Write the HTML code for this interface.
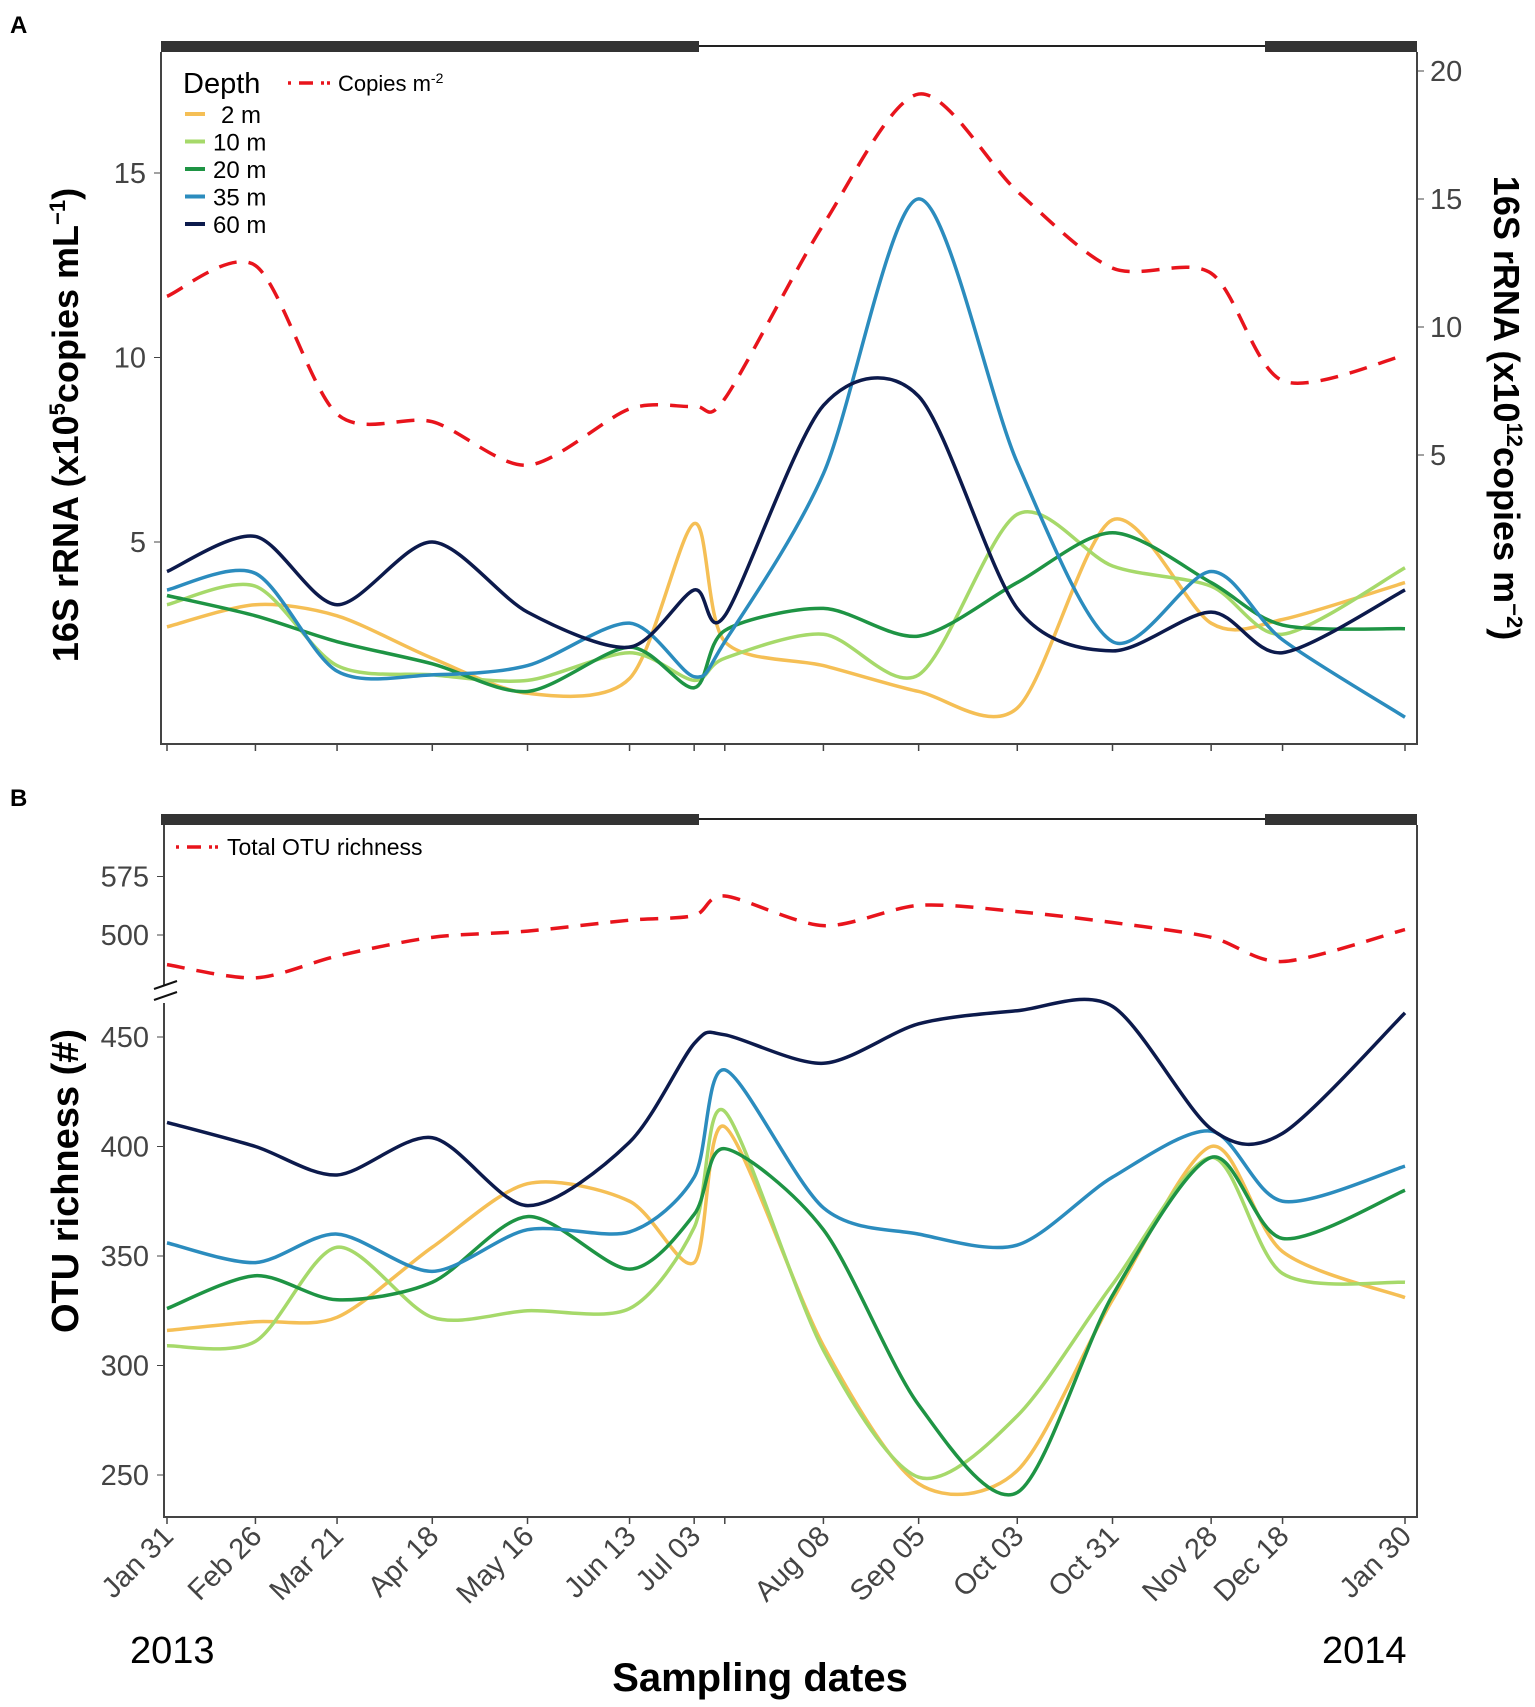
<!DOCTYPE html>
<html><head><meta charset="utf-8"><style>
body{margin:0;background:#fff}
svg{display:block;font-family:"Liberation Sans",Arial,sans-serif}
</style></head><body>
<svg id="chart" width="1535" height="1707" viewBox="0 0 1535 1707"></svg>
<script>
const days=[0,26,50,78,106,136,155,164,193,221,250,278,307,328,364];
const tickDays=[0,26,50,78,106,136,155,164,193,221,250,278,307,328,364];
const tickLabels=["Jan 31","Feb 26","Mar 21","Apr 18","May 16","Jun 13","Jul 03","","Aug 08","Sep 05","Oct 03","Oct 31","Nov 28","Dec 18","Jan 30"];
const depthNames=["2 m","10 m","20 m","35 m","60 m"];
const depthColors=["#f5bf55","#a6d96a","#1e9444","#2b8cbe","#0c1a4c"];
const aCopies=[11.2,12.4,6.6,6.3,4.6,6.8,6.9,7.2,14,19.1,15.3,12.3,12.1,7.9,8.9];
const a2=[2.7,3.3,3.0,1.85,0.9,1.3,5.5,2.3,1.65,0.95,0.5,5.6,2.8,2.9,3.9];
const a10=[3.3,3.8,1.65,1.4,1.25,2.0,1.25,1.85,2.5,1.4,5.75,4.35,3.8,2.5,4.3];
const a20=[3.55,3.0,2.3,1.7,0.95,2.15,1.05,2.6,3.2,2.45,3.9,5.25,3.9,2.75,2.65];
const a35=[3.7,4.15,1.5,1.4,1.65,2.8,1.35,2.3,6.85,14.3,7.15,2.3,4.2,2.35,0.25];
const a60=[4.2,5.15,3.3,5.0,3.1,2.15,3.7,3.0,8.7,8.95,3.2,2.05,3.1,2.0,3.7];
const bTotal=[462,445,473,497,505,519,525,550,512,538,530,516,497,466,507];
const b2=[316,320,322,354,383,375,347,409,309,246,252,330,400,352,331];
const b10=[309,311,354,322,325,326,363,416,307,249,277,337,395,342,338];
const b20=[326,341,330,338,368,344,369,399,362,282,242,332,395,358,380];
const b35=[356,347,360,343,362,361,386,435,372,360,355,386,407,375,391];
const b60=[411,400,387,404,373,402,447,451,438,456,462,464,408,406,461];
const aLeftTicks=[5,10,15], aRightTicks=[5,10,15,20];
const bLowTicks=[250,300,350,400,450], bHighTicks=[500,575];

const NS="http://www.w3.org/2000/svg";
const svg=document.getElementById('chart');
function el(tag,attrs,parent,text){const e=document.createElementNS(NS,tag);for(const k in attrs)e.setAttribute(k,attrs[k]);if(text!==undefined)e.textContent=text;(parent||svg).appendChild(e);return e;}
const X=d=>167+d*(1405-167)/364;
const yAL=v=>542-(v-5)*36.9;
const yAR=v=>455-(v-5)*25.6;
const yBLow=v=>1475-(v-250)*2.19;
const yBHigh=v=>935-(v-500)*0.78;
const yB=v=>v>=480?yBHigh(v):yBLow(v);
function smooth(pts){let d=`M${pts[0][0]},${pts[0][1]}`;for(let i=0;i<pts.length-1;i++){const p0=pts[Math.max(0,i-1)],p1=pts[i],p2=pts[i+1],p3=pts[Math.min(pts.length-1,i+2)];const c1=[p1[0]+(p2[0]-p0[0])/7,p1[1]+(p2[1]-p0[1])/7],c2=[p2[0]-(p3[0]-p1[0])/7,p2[1]-(p3[1]-p1[1])/7];d+=` C${c1[0]},${c1[1]} ${c2[0]},${c2[1]} ${p2[0]},${p2[1]}`;}return d;}
function series(vals,yf,color,dash,name){const p=el('path',{d:smooth(vals.map((v,i)=>[X(days[i]),yf(v)])),fill:'none',stroke:color,'stroke-width':3.5,'stroke-dasharray':dash||'none'});

}
function seasonBar(y){el('line',{x1:161,x2:1417,y1:y+5,y2:y+5,stroke:'#222','stroke-width':2});el('rect',{x:161,y:y,width:699-161,height:11,fill:'#333',});el('rect',{x:1265,y:y,width:1417-1265,height:11,fill:'#333',});}
function xTicks(yb){tickDays.forEach(d=>el('line',{x1:X(d),x2:X(d),y1:yb,y2:yb+7,stroke:'#444','stroke-width':1.5}));}

// Panel A
el('text',{x:10,y:33,'font-size':24,'font-weight':'bold',},svg,'A');
seasonBar(41);
el('path',{d:'M161,52 V744 H1417 V52',fill:'none',stroke:'#444','stroke-width':2,});
xTicks(744);
aLeftTicks.forEach(v=>{el('line',{x1:154,x2:161,y1:yAL(v),y2:yAL(v),stroke:'#444'});el('text',{x:146,y:yAL(v)+10,'font-size':29,fill:'#444','text-anchor':'end',},svg,v);});
aRightTicks.forEach(v=>{el('line',{x1:1417,x2:1424,y1:yAR(v),y2:yAR(v),stroke:'#444'});el('text',{x:1430,y:yAR(v)+10,'font-size':29,fill:'#444',},svg,v);});
const tl=el('text',{transform:'translate(78,425) rotate(-90)','font-size':36,'font-weight':'bold','text-anchor':'middle',});
tl.innerHTML='16S rRNA (x10<tspan dy="-13" font-size="22">5</tspan><tspan dy="13">copies mL</tspan><tspan dy="-13" font-size="22">−1</tspan><tspan dy="13">)</tspan>';
const tr=el('text',{transform:'translate(1494,408) rotate(90)','font-size':36,'font-weight':'bold','text-anchor':'middle',});
tr.innerHTML='16S rRNA (x10<tspan dy="-13" font-size="22">12</tspan><tspan dy="13">copies m</tspan><tspan dy="-13" font-size="22">−2</tspan><tspan dy="13">)</tspan>';
const aSeries=[a2,a10,a20,a35,a60];
aSeries.forEach((s,i)=>series(s,yAL,depthColors[i],null,'line-a-'+depthNames[i].replace(' ','')));
series(aCopies,yAR,'#e8141c','18 12','line-copies-m2');
// legend A
el('text',{x:183,y:93,'font-size':29,},svg,'Depth');
el('line',{x1:288,x2:330,y1:83,y2:83,stroke:'#e8141c','stroke-width':3.5,'stroke-dasharray':'3 8 14 8 3',});
const lc=el('text',{x:338,y:91,'font-size':22,});
lc.innerHTML='Copies m<tspan dy="-8" font-size="14">-2</tspan>';
depthNames.forEach((n,i)=>{const y=114+i*27.5;el('line',{x1:185,x2:205,y1:y,y2:y,stroke:depthColors[i],'stroke-width':4,});el('text',{x:n.length<4?221:213,y:y+9,'font-size':24,},svg,n);});

// Panel B
el('text',{x:10,y:806,'font-size':24,'font-weight':'bold',},svg,'B');
seasonBar(814);
el('path',{d:'M164,825 V985 M164,1003 V1517 H1417 V825',fill:'none',stroke:'#444','stroke-width':2,});
el('path',{d:'M154,989 L177,981 M154,1000 L177,992',stroke:'#111','stroke-width':2,});
xTicks(1517);
bLowTicks.concat(bHighTicks).forEach(v=>{el('line',{x1:157,x2:164,y1:yB(v),y2:yB(v),stroke:'#444'});el('text',{x:149,y:yB(v)+10,'font-size':29,fill:'#444','text-anchor':'end',},svg,v);});
el('text',{transform:'translate(78,1181) rotate(-90)','font-size':38,'font-weight':'bold','text-anchor':'middle',},svg,'OTU richness (#)');
const bSeries=[b2,b10,b20,b35,b60];
bSeries.forEach((s,i)=>series(s,yBLow,depthColors[i],null,'line-b-'+depthNames[i].replace(' ','')));
series(bTotal,yBHigh,'#e8141c','18 12','line-total-otu');
el('line',{x1:176,x2:218,y1:847,y2:847,stroke:'#e8141c','stroke-width':3.5,'stroke-dasharray':'3 8 14 8 3',});
el('text',{x:227,y:855,'font-size':23,},svg,'Total OTU richness');

// x labels
tickDays.forEach((d,i)=>{if(!tickLabels[i])return;const t=el('text',{transform:`translate(${X(d)+8},1538) rotate(-45)`,'font-size':29,fill:'#444','text-anchor':'end'},svg,tickLabels[i]);

});
el('text',{x:130,y:1663,'font-size':38,},svg,'2013');
el('text',{x:1322,y:1663,'font-size':38,},svg,'2014');
el('text',{x:760,y:1691,'font-size':40,'font-weight':'bold','text-anchor':'middle',},svg,'Sampling dates');
</script>
</body></html>
